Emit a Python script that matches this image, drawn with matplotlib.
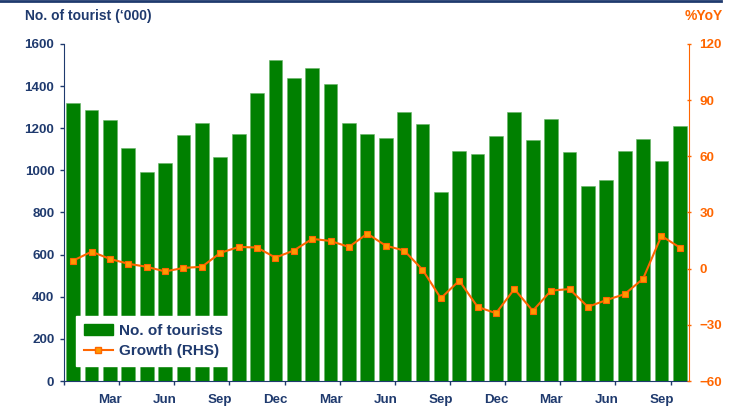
import numpy as np
import matplotlib.pyplot as plt
from matplotlib.lines import Line2D
from matplotlib.patches import Patch

plt.rcParams['font.family'] = ['Liberation Sans', 'DejaVu Sans']
plt.rcParams['font.weight'] = 'bold'

# monthly data, Jan (yr 1) .. Oct (yr 3)
tourists = [1318, 1289, 1237, 1104, 991, 1034, 1167, 1227, 1063, 1175,
            1368, 1523, 1439, 1485, 1409, 1223, 1175, 1156, 1278, 1218,
            895, 1094, 1077, 1162, 1275, 1142, 1242, 1085, 926, 955,
            1094, 1151, 1044, 1213]
growth = [4.3, 9.1, 5.2, 2.6, 1.0, -1.5, 0.4, 1.0, 8.4, 11.6,
          11.3, 5.9, 9.7, 15.9, 14.8, 11.6, 18.7, 12.3, 9.7, -0.5,
          -15.8, -6.4, -20.4, -23.8, -10.9, -22.5, -11.7, -10.9, -20.4, -16.8,
          -13.6, -5.4, 17.5, 11.3]
tick_labels = ['Mar', 'Jun', 'Sep', 'Dec', 'Mar', 'Jun', 'Sep', 'Dec', 'Mar', 'Jun', 'Sep']

navy = '#1F3A6E'
orange = '#FF6600'
green = '#008000'
fs = 9.6

x = np.arange(len(tourists))

fig = plt.figure(figsize=(7.38, 4.11), dpi=100)
ax1 = fig.add_axes([64/738, 1-381/411, 625/738, 337/411])

ax1.bar(x, tourists, width=0.75, color=green, edgecolor='#66b366', linewidth=0.4)
ax1.set_xlim(-0.5, len(tourists)-0.5)
ax1.set_ylim(0, 1600)
ax1.set_yticks(range(0, 1601, 200))
ax1.tick_params(axis='y', colors=navy, labelsize=fs, length=3, width=1, pad=4)
for lab in ax1.get_yticklabels():
    lab.set_fontweight('bold')

# month labels under bars, tick marks at quarter boundaries
lab_pos = np.arange(2, len(tourists), 3)
ax1.set_xticks(lab_pos)
ax1.set_xticklabels(tick_labels, fontweight='bold')
ax1.set_xticks(np.concatenate([[-0.5], lab_pos + 0.5]), minor=True)
ax1.tick_params(axis='x', which='major', length=0, colors=navy, labelsize=fs, pad=9)
ax1.tick_params(axis='x', which='minor', length=3, width=1, color=navy)

for s in ['top', 'right']:
    ax1.spines[s].set_visible(False)
ax1.spines['left'].set_color(navy)
ax1.spines['bottom'].set_color(navy)

# growth on the right
ax2 = ax1.twinx()
ax2.plot(x, growth, color=orange, linewidth=1.5, marker='s', markersize=4.2,
         markerfacecolor='#FF9900', markeredgecolor=orange, markeredgewidth=0.8)
ax2.set_ylim(-60, 120)
ax2.set_yticks(range(-60, 121, 30))
ax2.tick_params(axis='y', colors=orange, labelsize=fs, length=3, width=1,
                direction='inout', pad=6)
for lab in ax2.get_yticklabels():
    lab.set_fontweight('bold')
for s in ['top', 'left', 'bottom']:
    ax2.spines[s].set_visible(False)
ax2.spines['right'].set_color(orange)

handles = [Patch(facecolor=green, edgecolor=green),
           Line2D([], [], color=orange, linewidth=1.5, marker='s', markersize=4.2,
                  markerfacecolor='#FF9900', markeredgecolor=orange)]
leg = ax2.legend(handles, ['No. of tourists', 'Growth (RHS)'], loc='lower left',
                 bbox_to_anchor=(0.019, 0.045), borderaxespad=0, frameon=True,
                 fancybox=False, framealpha=1, edgecolor='white', facecolor='white',
                 prop={'weight': 'bold', 'size': 11}, labelcolor=navy,
                 handlelength=1.9, handletextpad=0.4, borderpad=0.5,
                 labelspacing=0.4)

fig.text(25/738, 1-16/411, "No. of tourist (\u2018000)", color=navy, fontsize=10,
         fontweight='bold', va='center', ha='left')
fig.text(723/738, 1-16/411, '%YoY', color=orange, fontsize=10,
         fontweight='bold', va='center', ha='right')

# top rule
fig.add_artist(Line2D([0, 721/738], [1-1/411, 1-1/411], color=navy, linewidth=2,
                      transform=fig.transFigure))

fig.savefig('out.png', dpi=100)
